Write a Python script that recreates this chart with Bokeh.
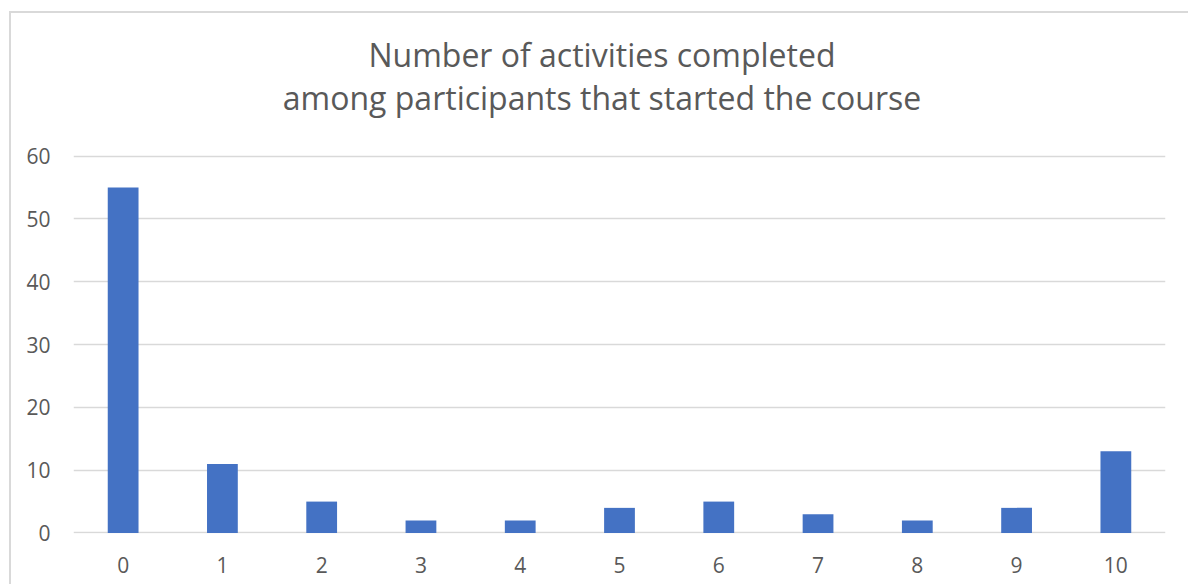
from bokeh.plotting import figure
from bokeh.models import FactorRange, Range1d, FixedTicker, ColumnDataSource
from bokeh.core.properties import value
from bokeh.embed import file_html
from bokeh.resources import INLINE

# Number of activities completed (0-10) and participant counts
activities = ["0", "1", "2", "3", "4", "5", "6", "7", "8", "9", "10"]
participants = [55, 11, 5, 2, 2, 4, 5, 3, 2, 4, 13]
y_ticks = [0, 10, 20, 30, 40, 50, 60]
title_lines = ["Number of activities completed",
               "among participants that started the course"]

TEXT = "#595959"
GRID = "#d9d9d9"
BAR = "#4472C4"
FONT = "Open Sans"

# value axis shows 0-60; the headroom above 60 holds the two title lines
HEADROOM = 82.7

src = ColumnDataSource(dict(x=activities, y=participants))

p = figure(
    width=1179, height=573,
    x_range=FactorRange(*activities, range_padding=0),
    y_range=Range1d(-0.08, HEADROOM),
    output_backend="svg", toolbar_location=None,
    min_border_left=62, min_border_right=25,
    min_border_top=0, min_border_bottom=53,
)
p.styles = {"margin-left": "9px", "margin-top": "11px",
            "border-left": "2px solid #d9d9d9", "border-top": "2px solid #d9d9d9"}

p.vbar(x="x", top="y", bottom=0, width=0.31, source=src, color=BAR, line_color=None)

# title lines, centred over the whole chart box (a little left of the plot centre)
title_src = ColumnDataSource(dict(
    x=[activities[5]] * 2, y=[76.1, 69.25], text=title_lines))
p.text(x="x", y="y", text="text", source=title_src, x_offset=-17.5,
       text_align="center", text_baseline="alphabetic",
       text_color=TEXT, text_font=value(FONT), text_font_size="32px")

p.outline_line_color = None
p.background_fill_color = "white"
p.border_fill_color = "white"

p.xgrid.grid_line_color = None
p.ygrid.grid_line_color = GRID
p.ygrid.grid_line_width = 1.5
p.yaxis.ticker = FixedTicker(ticks=y_ticks)

for ax in (p.xaxis, p.yaxis):
    ax.axis_line_color = None
    ax.major_tick_line_color = None
    ax.minor_tick_line_color = None
    ax.major_label_text_color = TEXT
    ax.major_label_text_font = FONT
    ax.major_label_text_font_size = "21px"
p.xaxis.major_label_standoff = 17
p.yaxis.major_label_standoff = 17

open("out.html", "w").write(file_html(p, INLINE))
